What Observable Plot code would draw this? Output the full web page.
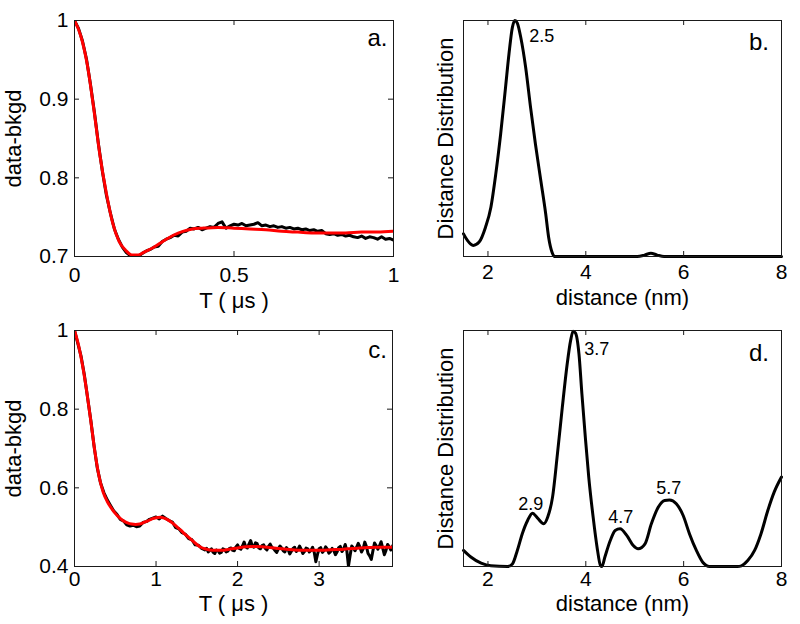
<!DOCTYPE html>
<html><head><meta charset="utf-8">
<script src="https://cdn.jsdelivr.net/npm/d3@7"></script>
<script src="https://cdn.jsdelivr.net/npm/@observablehq/plot@0.6"></script>
<style>
body{margin:0;background:#fff;}
#wrap{position:relative;width:800px;height:624px;overflow:hidden;background:#fff;}
#wrap>svg{position:absolute;}
</style></head><body><div id="wrap"></div>
<script>
// ---------- Panel a: time trace (T in µs) ----------
const aFitT = [0,0.02,0.04,0.06,0.08,0.10,0.12,0.14,0.16,0.18,0.20,0.22,0.25,0.28,0.31,0.34,0.37,0.40,0.45,0.50,0.55,0.60,0.65,0.70,0.75,0.80,0.85,0.90,0.95,1.00];
const aFitV = [1.000,0.980,0.944,0.889,0.828,0.780,0.742,0.719,0.708,0.702,0.702,0.706,0.712,0.720,0.727,0.732,0.735,0.736,0.737,0.736,0.735,0.734,0.732,0.731,0.730,0.730,0.730,0.731,0.731,0.732];
const aDataT = [0,0.0125,0.025,0.0375,0.05,0.0625,0.075,0.0875,0.1,0.1125,0.125,0.1375,0.15,0.1625,0.175,0.1875,0.2,0.2125,0.225,0.2375,0.25,0.2625,0.275,0.2875,0.3,0.3125,0.325,0.3375,0.35,0.3625,0.375,0.3875,0.4,0.4125,0.425,0.4375,0.45,0.4625,0.475,0.4875,0.5,0.5125,0.525,0.5375,0.55,0.5625,0.575,0.5875,0.6,0.6125,0.625,0.6375,0.65,0.6625,0.675,0.6875,0.7,0.7125,0.725,0.7375,0.75,0.7625,0.775,0.7875,0.8,0.8125,0.825,0.8375,0.85,0.8625,0.875,0.8875,0.9,0.9125,0.925,0.9375,0.95,0.9625,0.975,0.9875,1.0];
const aDataV = [1.000,0.990,0.974,0.951,0.919,0.883,0.843,0.808,0.778,0.755,0.735,0.722,0.712,0.705,0.701,0.699,0.700,0.704,0.707,0.709,0.712,0.713,0.719,0.722,0.724,0.727,0.726,0.731,0.732,0.736,0.735,0.737,0.734,0.736,0.738,0.737,0.742,0.744,0.736,0.739,0.741,0.740,0.742,0.739,0.740,0.741,0.743,0.739,0.740,0.738,0.739,0.737,0.738,0.736,0.737,0.735,0.736,0.734,0.735,0.733,0.734,0.732,0.733,0.729,0.728,0.729,0.727,0.728,0.726,0.727,0.725,0.724,0.726,0.723,0.725,0.724,0.722,0.725,0.722,0.723,0.721];
const aXTicks = [0,0.5,1];
const aYTicks = [0.7,0.8,0.9,1];

// ---------- Panel c: time trace (T in µs) ----------
const cFitT = [0,0.05,0.10,0.15,0.20,0.25,0.30,0.35,0.40,0.45,0.50,0.55,0.60,0.65,0.70,0.75,0.80,0.85,0.90,0.95,1.00,1.05,1.10,1.15,1.20,1.25,1.30,1.35,1.40,1.45,1.50,1.55,1.60,1.70,1.80,1.90,2.00,2.10,2.20,2.30,2.40,2.50,2.60,2.70,2.80,2.90,3.00,3.10,3.20,3.30,3.40,3.50,3.60,3.70,3.80,3.92];
const cFitV = [1.000,0.962,0.910,0.845,0.770,0.692,0.630,0.590,0.566,0.549,0.535,0.524,0.516,0.511,0.508,0.507,0.508,0.512,0.516,0.521,0.524,0.525,0.523,0.518,0.511,0.502,0.493,0.483,0.474,0.465,0.456,0.449,0.445,0.441,0.441,0.444,0.447,0.450,0.451,0.450,0.448,0.446,0.444,0.442,0.441,0.441,0.441,0.442,0.443,0.444,0.446,0.447,0.448,0.449,0.449,0.449];
const cDataT = [0,0.04,0.08,0.12,0.16,0.20,0.24,0.28,0.32,0.36,0.40,0.44,0.48,0.52,0.56,0.60,0.64,0.68,0.72,0.76,0.80,0.84,0.88,0.92,0.96,1.00,1.04,1.08,1.12,1.16,1.20,1.24,1.28,1.32,1.36,1.40,1.44,1.48,1.52,1.56,
  1.60,1.62,1.64,1.66,1.68,1.70,1.72,1.74,1.76,1.78,1.80,1.82,1.84,1.86,1.88,1.90,1.92,1.94,1.96,1.98,
  2.00,2.02,2.04,2.06,2.08,2.10,2.12,2.14,2.16,2.18,2.20,2.22,2.24,2.26,2.28,2.30,2.32,2.34,2.36,2.38,2.40,2.42,2.44,2.46,2.48,2.50,2.52,2.54,2.56,2.58,2.60,2.62,2.64,2.66,2.68,2.70,2.72,2.74,2.76,2.78,2.80,2.82,2.84,2.86,2.88,2.90,2.92,2.94,2.96,2.98,
  3.00,3.02,3.04,3.06,3.08,3.10,3.12,3.14,3.16,3.18,3.20,3.22,3.24,3.26,3.28,3.30,3.32,3.34,3.36,3.38,3.40,3.42,3.44,3.46,3.48,3.50,3.52,3.54,3.56,3.58,3.60,3.62,3.64,3.66,3.68,3.70,3.72,3.74,3.76,3.78,3.80,3.82,3.84,3.86,3.88,3.90,3.92];
const cDataV = [1.000,0.968,0.935,0.888,0.830,0.772,0.706,0.650,0.612,0.588,0.570,0.556,0.542,0.533,0.520,0.516,0.506,0.503,0.505,0.501,0.503,0.512,0.514,0.520,0.523,0.526,0.521,0.528,0.522,0.517,0.513,0.499,0.496,0.486,0.482,0.471,0.468,0.455,0.454,0.446,
  0.442,0.446,0.437,0.441,0.445,0.436,0.433,0.442,0.440,0.434,0.436,0.445,0.443,0.437,0.439,0.446,0.447,0.441,0.440,0.450,
  0.455,0.446,0.444,0.452,0.462,0.450,0.447,0.457,0.466,0.452,0.449,0.460,0.458,0.447,0.445,0.453,0.455,0.446,0.442,0.451,0.457,0.449,0.446,0.440,0.436,0.445,0.452,0.447,0.440,0.437,0.448,0.443,0.432,0.439,0.446,0.449,0.438,0.443,0.452,0.444,0.433,0.438,0.447,0.445,0.437,0.441,0.449,0.436,0.412,0.431,
  0.445,0.448,0.436,0.440,0.450,0.444,0.434,0.438,0.446,0.441,0.430,0.437,0.448,0.451,0.438,0.444,0.456,0.440,0.401,0.428,0.452,0.447,0.440,0.449,0.459,0.450,0.437,0.445,0.462,0.451,0.433,0.427,0.418,0.440,0.460,0.453,0.444,0.452,0.463,0.447,0.430,0.441,0.456,0.450,0.442,0.451,0.460];
const cXTicks = [0,1,2,3];
const cYTicks = [0.4,0.6,0.8,1];

// ---------- Panel b: distance distribution ----------
const bDist = [1.50,1.58,1.70,1.82,1.95,2.06,2.16,2.26,2.36,2.43,2.50,2.55,2.60,2.67,2.77,2.87,2.97,3.08,3.18,3.24,3.31,3.36,5.05,5.20,5.33,5.46,5.60,8.00];
const bProb = [0.096,0.068,0.047,0.061,0.124,0.209,0.350,0.520,0.718,0.859,0.972,1.000,0.989,0.929,0.802,0.633,0.477,0.322,0.181,0.082,0.018,0.000,0.000,0.006,0.014,0.006,0.000,0.000];
const bPeakText = ["2.5"];
const bPeakX = [3.10];
const bPeakY = [0.935];

// ---------- Panel d: distance distribution ----------
const dDist = [1.50,1.65,1.86,2.06,2.40,2.50,2.60,2.70,2.81,2.91,3.01,3.14,3.22,3.32,3.42,3.52,3.62,3.69,3.74,3.79,3.86,3.92,3.99,4.06,4.15,4.23,4.30,4.33,4.39,4.50,4.60,4.70,4.84,4.97,5.07,5.21,5.34,5.48,5.61,5.71,5.85,5.99,6.12,6.26,6.39,6.53,7.10,7.18,7.31,7.45,7.58,7.72,7.85,8.00];
const dProb = [0.068,0.040,0.014,0.003,0.000,0.011,0.068,0.138,0.195,0.226,0.206,0.181,0.209,0.294,0.477,0.675,0.859,0.958,0.997,0.989,0.901,0.732,0.548,0.379,0.209,0.082,0.004,0.000,0.040,0.110,0.153,0.160,0.131,0.089,0.075,0.096,0.181,0.251,0.280,0.282,0.266,0.216,0.138,0.068,0.018,0.000,0.000,0.003,0.025,0.068,0.138,0.237,0.315,0.379];
const dPeakText = ["2.9","3.7","4.7","5.7"];
const dPeakX = [2.876,4.225,4.715,5.697];
const dPeakY = [0.265,0.921,0.209,0.331];
const distXTicks = [2,4,6,8];

const FONT = "'Liberation Sans', Arial, Helvetica, sans-serif";
const FRAME = "#1a1a1a";
const zip = (xs, ys) => xs.map((x, i) => ({x, y: ys[i]}));

function panel(o) {
  const W = 400, H = 312;
  const innerW = W - o.mL - o.mR, innerH = H - o.mT - o.mB;
  const marks = [...o.marks,
    Plot.frame({stroke: FRAME, strokeWidth: 1}),
    Plot.tickX(o.xTicks, {x: d => d, insetTop: innerH - 5, stroke: FRAME}),
    Plot.tickX(o.xTicks, {x: d => d, insetBottom: innerH - 5, stroke: FRAME}),
    Plot.axisX(o.xTicks, {tickSize: 0, tickPadding: o.xPad, tickFormat: d => String(d), label: null, fontSize: 21}),
    Plot.text([o.xLabel], {frameAnchor: "bottom", text: d => d, textAnchor: "middle", lineAnchor: "bottom", dy: o.xLabelDy, fontSize: 22}),
    Plot.text([o.yLabel], {frameAnchor: "left", rotate: -90, text: d => d, textAnchor: "middle", dx: o.yLabelDx, fontSize: 22}),
    Plot.text([o.letter], {frameAnchor: "top-right", text: d => d, textAnchor: "end", lineAnchor: "bottom", dx: o.letterDx, dy: o.letterDy, fontSize: 24})
  ];
  if (o.yTicks) {
    marks.push(
      Plot.tickY(o.yTicks, {y: d => d, insetRight: innerW - 5, stroke: FRAME}),
      Plot.tickY(o.yTicks, {y: d => d, insetLeft: innerW - 5, stroke: FRAME}),
      Plot.axisY(o.yTicks, {tickSize: 0, tickPadding: 6, tickFormat: d => String(d), label: null, fontSize: 21})
    );
  }
  const svg = Plot.plot({
    width: W, height: H,
    marginLeft: o.mL, marginRight: o.mR, marginTop: o.mT, marginBottom: o.mB,
    x: {domain: o.xDomain},
    y: o.yTicks ? {domain: o.yDomain} : {domain: o.yDomain, axis: null},
    style: {fontFamily: FONT, fontSize: "21px", color: "black", background: "transparent", overflow: "visible"},
    marks
  });
  svg.style.left = o.left + "px";
  svg.style.top = o.top + "px";
  document.getElementById("wrap").appendChild(svg);
}

// a.
panel({
  left: 0, top: 0, mL: 74, mR: 7, mT: 20, mB: 56,
  xDomain: [0, 1], yDomain: [0.7, 1], xTicks: aXTicks, yTicks: aYTicks,
  xPad: 11, xLabel: "T ( \u03bcs )", xLabelDy: 51.5, yLabel: "data-bkgd", yLabelDx: -61,
  letter: "a.", letterDx: -6, letterDy: 25,
  marks: [
    Plot.line(zip(aDataT, aDataV), {x: "x", y: "y", stroke: "black", strokeWidth: 3, clip: true}),
    Plot.line(zip(aFitT, aFitV), {x: "x", y: "y", stroke: "#ff0000", strokeWidth: 3, curve: "monotone-x", clip: true})
  ]
});

// b.
panel({
  left: 400, top: 0, mL: 63, mR: 19, mT: 20, mB: 56,
  xDomain: [1.5, 8], yDomain: [0, 1], xTicks: distXTicks, yTicks: null,
  xPad: 7.5, xLabel: "distance (nm)", xLabelDy: 48, yLabel: "Distance Distribution", yLabelDx: -18,
  letter: "b.", letterDx: -12.5, letterDy: 29,
  marks: [
    Plot.line(zip(bDist, bProb), {x: "x", y: "y", stroke: "black", strokeWidth: 3, curve: "monotone-x"}),
    Plot.text(bPeakText, {x: (d, i) => bPeakX[i], y: (d, i) => bPeakY[i], text: d => d, fontSize: 18})
  ]
});

// c.
panel({
  left: 0, top: 312, mL: 74, mR: 8, mT: 18, mB: 58,
  xDomain: [0, 3.9], yDomain: [0.4, 1], xTicks: cXTicks, yTicks: cYTicks,
  xPad: 5, xLabel: "T ( \u03bcs )", xLabelDy: 44, yLabel: "data-bkgd", yLabelDx: -61,
  letter: "c.", letterDx: -5.5, letterDy: 27,
  marks: [
    Plot.line(zip(cDataT, cDataV), {x: "x", y: "y", stroke: "black", strokeWidth: 3, clip: true}),
    Plot.line(zip(cFitT, cFitV), {x: "x", y: "y", stroke: "#ff0000", strokeWidth: 3, curve: "monotone-x", clip: true})
  ]
});

// d.
panel({
  left: 400, top: 312, mL: 63, mR: 19, mT: 18, mB: 58,
  xDomain: [1.5, 8], yDomain: [0, 1], xTicks: distXTicks, yTicks: null,
  xPad: 5, xLabel: "distance (nm)", xLabelDy: 44, yLabel: "Distance Distribution", yLabelDx: -18,
  letter: "d.", letterDx: -12.5, letterDy: 30,
  marks: [
    Plot.line(zip(dDist, dProb), {x: "x", y: "y", stroke: "black", strokeWidth: 3, curve: "monotone-x"}),
    Plot.text(dPeakText, {x: (d, i) => dPeakX[i], y: (d, i) => dPeakY[i], text: d => d, fontSize: 18})
  ]
});
</script>
</body></html>
